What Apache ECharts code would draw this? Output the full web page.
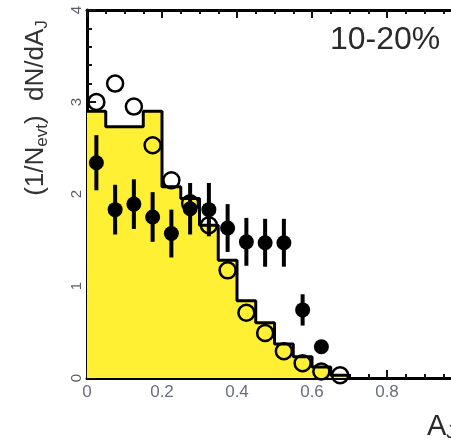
<!DOCTYPE html>
<html>
<head>
<meta charset="utf-8">
<script src="https://cdn.jsdelivr.net/npm/echarts@6.0.0/dist/echarts.min.js"></script>
<style>
  html, body { margin: 0; padding: 0; background: #fff; }
  #main { width: 451px; height: 445px; }
</style>
</head>
<body>
<div id="main"></div>
<script>
// histogram (yellow, black outline): bin edges and heights
var binEdges = [0, 0.05, 0.10, 0.15, 0.20, 0.25, 0.30, 0.35, 0.40, 0.45, 0.50, 0.55, 0.60, 0.65, 0.70];
var histVals = [2.90, 2.73, 2.73, 2.90, 2.08, 1.95, 1.66, 1.28, 0.84, 0.60, 0.37, 0.23, 0.12, 0.03];

// filled points with error bars
var pbX = [0.025, 0.075, 0.125, 0.175, 0.225, 0.275, 0.325, 0.375, 0.425, 0.475, 0.525, 0.575, 0.625];
var pbY = [2.34, 1.83, 1.89, 1.75, 1.57, 1.84, 1.83, 1.63, 1.48, 1.47, 1.47, 0.74, 0.34];
var pbErr = [0.30, 0.27, 0.27, 0.27, 0.26, 0.28, 0.29, 0.26, 0.26, 0.26, 0.26, 0.17, 0.06];

// open circles
var ppX = [0.025, 0.075, 0.125, 0.175, 0.225, 0.275, 0.325, 0.375, 0.425, 0.475, 0.525, 0.575, 0.625, 0.675];
var ppY = [3.00, 3.20, 2.95, 2.53, 2.15, 1.90, 1.66, 1.17, 0.71, 0.49, 0.29, 0.16, 0.07, 0.03];

var xRange = [0, 1];
var yTicks = [0, 1, 2, 3, 4];

var chart = echarts.init(document.getElementById('main'));

var histData = [];
for (var i = 0; i < histVals.length; i++) {
  histData.push([binEdges[i], histVals[i]]);
}
histData.push([binEdges[binEdges.length - 1], 0]);

var pbData = pbX.map(function (x, i) { return [x, pbY[i]]; });
var errData = pbX.map(function (x, i) { return [x, pbY[i] - pbErr[i], pbY[i] + pbErr[i]]; });
var ppData = ppX.map(function (x, i) { return [x, ppY[i]]; });

var ink = '#141414';
function axisLine() {
  return { show: true, onZero: false, lineStyle: { color: '#000', width: 3 } };
}
function tick(len) {
  return { show: true, inside: true, length: len, lineStyle: { color: ink, width: 2 } };
}
function minor(n, len) {
  return { show: true, splitNumber: n, length: len, lineStyle: { color: ink, width: 2 } };
}

var option = {
  animation: false,
  grid: { left: 87, top: 10, width: 375, height: 368, outerBoundsMode: 'none' },
  xAxis: [{
    type: 'value', min: xRange[0], max: xRange[1], interval: 0.2,
    axisLine: axisLine(), axisTick: tick(8), minorTick: minor(4, 4),
    splitLine: { show: false },
    axisLabel: { fontSize: 17, color: '#6a6e78', margin: 6,
      formatter: function (v) { return v === 0 ? '0' : v.toFixed(1); } }
  }, {
    type: 'value', position: 'top', min: xRange[0], max: xRange[1], interval: 0.2,
    axisLine: axisLine(), axisTick: tick(8), minorTick: minor(4, 4),
    splitLine: { show: false }, axisLabel: { show: false }
  }],
  yAxis: [{
    type: 'value', min: yTicks[0], max: yTicks[yTicks.length - 1], interval: 1,
    axisLine: axisLine(), axisTick: tick(9), minorTick: minor(5, 5),
    splitLine: { show: false },
    axisLabel: { fontSize: 15, color: '#5a5e68', rotate: 90, margin: 3 }
  }],
  graphic: [{
    type: 'text', x: 36, y: 108, rotation: Math.PI / 2,
    style: {
      text: '{m|(1/N}{s|evt}{m|)  dN/dA}{s|J}',
      align: 'center', verticalAlign: 'middle',
      rich: {
        m: { fontSize: 26, fontFamily: 'Liberation Sans', fill: '#333', lineHeight: 30, verticalAlign: 'middle' },
        s: { fontSize: 17, fontFamily: 'Liberation Sans', fill: '#333', lineHeight: 17, verticalAlign: 'bottom' }
      }
    }
  }, {
    type: 'text', left: 330, top: 24,
    style: { text: '10-20%', fontSize: 32, fontFamily: 'Liberation Sans', fill: '#2a2a2a' }
  }, {
    type: 'text', left: 427, top: 412,
    style: {
      text: '{m|A}{s|J}',
      rich: {
        m: { fontSize: 29, fontFamily: 'Liberation Sans', fill: '#2a2a2a', lineHeight: 32, verticalAlign: 'middle' },
        s: { fontSize: 18, fontFamily: 'Liberation Sans', fill: '#2a2a2a', lineHeight: 18, verticalAlign: 'bottom' }
      }
    }
  }],
  series: [{
    type: 'line', step: 'end', data: histData, symbol: 'none', z: 1,
    lineStyle: { color: '#000', width: 3 },
    areaStyle: { color: '#fff033', opacity: 1 }
  }, {
    type: 'scatter', data: ppData, symbol: 'circle', symbolSize: 16, z: 3,
    itemStyle: { color: 'transparent', borderColor: '#000', borderWidth: 2.5, opacity: 1 }
  }, {
    type: 'custom', data: errData, z: 4,
    renderItem: function (params, api) {
      var lo = api.coord([api.value(0), api.value(1)]);
      var hi = api.coord([api.value(0), api.value(2)]);
      return {
        type: 'line',
        shape: { x1: lo[0], y1: lo[1], x2: hi[0], y2: hi[1] },
        style: { stroke: '#000', lineWidth: 4 }
      };
    }
  }, {
    type: 'scatter', data: pbData, symbol: 'circle', symbolSize: 15, z: 5,
    itemStyle: { color: '#000', opacity: 1 }
  }]
};

chart.setOption(option);
</script>
</body>
</html>
